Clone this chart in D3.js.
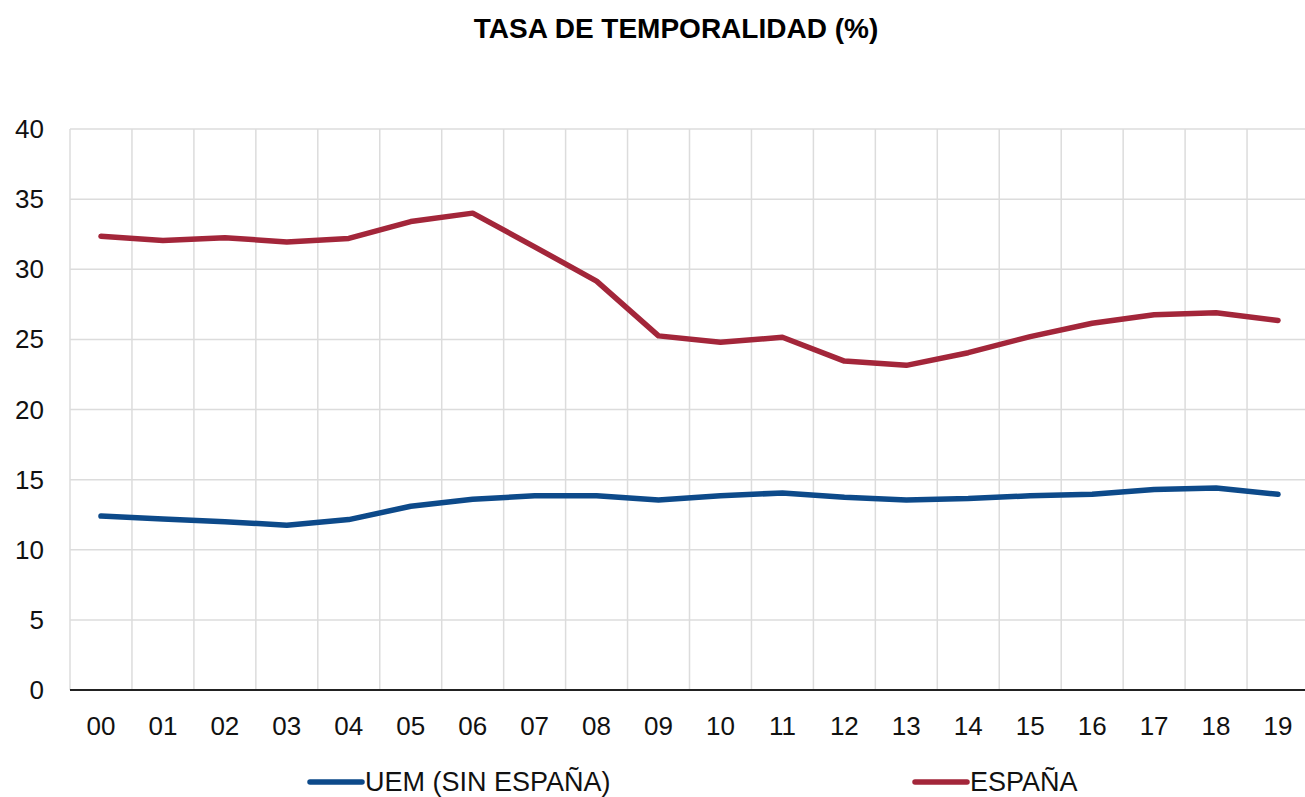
<!DOCTYPE html>
<html>
  <head>
    <script src="https://d3js.org/d3.v7.min.js"></script>
    <style>
      body { margin: 0; background: #fff; }
      text { font-family: "Liberation Sans", Arial, sans-serif; }
    </style>
  </head>
  <body>
    <svg id="chart" width="1305" height="797"></svg>
    <script>
      // data
      const years = ["00","01","02","03","04","05","06","07","08","09","10","11","12","13","14","15","16","17","18","19"];
      const espana = [32.35, 32.05, 32.25, 31.95, 32.2, 33.4, 34.0, 31.6, 29.15, 25.25, 24.8, 25.15, 23.45, 23.15, 24.05, 25.2, 26.15, 26.75, 26.9, 26.35];
      const uem = [12.4, 12.2, 12.0, 11.75, 12.15, 13.1, 13.6, 13.85, 13.85, 13.55, 13.85, 14.05, 13.75, 13.55, 13.65, 13.85, 13.95, 14.3, 14.4, 13.95];
      const yTicks = [0, 5, 10, 15, 20, 25, 30, 35, 40];

      const svg = d3.select("#chart");
      const plotLeft = 70, plotRight = 1309, plotTop = 129, plotBottom = 690;

      const x = d3.scaleBand().domain(years).range([plotLeft, plotRight]);
      const y = d3.scaleLinear().domain([0, 40]).range([plotBottom, plotTop]);

      // title
      svg.append("text")
        .attr("x", 676)
        .attr("y", 38)
        .attr("text-anchor", "middle")
        .style("font-size", "28px")
        .style("font-weight", "bold")
        .text("TASA DE TEMPORALIDAD (%)");

      // horizontal grid
      svg.append("g")
        .selectAll("line")
        .data(yTicks.filter(d => d > 0))
        .enter()
        .append("line")
        .attr("x1", plotLeft).attr("x2", plotRight)
        .attr("y1", d => y(d)).attr("y2", d => y(d))
        .attr("stroke", "#dcdcdc")
        .attr("stroke-width", 1.5);

      // vertical grid at category boundaries
      svg.append("g")
        .selectAll("line")
        .data(years)
        .enter()
        .append("line")
        .attr("x1", d => x(d)).attr("x2", d => x(d))
        .attr("y1", plotTop).attr("y2", plotBottom)
        .attr("stroke", "#dcdcdc")
        .attr("stroke-width", 1.5);

      // y labels
      svg.append("g")
        .selectAll("text")
        .data(yTicks)
        .enter()
        .append("text")
        .attr("x", 44)
        .attr("y", d => y(d) + 9)
        .attr("text-anchor", "end")
        .style("font-size", "26px")
        .attr("fill", "#111")
        .text(d => d);

      // x axis line
      svg.append("line")
        .attr("x1", plotLeft).attr("x2", plotRight)
        .attr("y1", plotBottom).attr("y2", plotBottom)
        .attr("stroke", "#222")
        .attr("stroke-width", 2);

      // x labels
      svg.append("g")
        .selectAll("text")
        .data(years)
        .enter()
        .append("text")
        .attr("x", d => x(d) + x.bandwidth() / 2)
        .attr("y", 735)
        .attr("text-anchor", "middle")
        .style("font-size", "26px")
        .attr("fill", "#111")
        .text(d => d);

      const line = d3.line()
        .x((d, i) => x(years[i]) + x.bandwidth() / 2)
        .y(d => y(d));

      svg.append("path")
        .datum(uem)
        .attr("d", line)
        .attr("fill", "none")
        .attr("stroke", "#0d4a8a")
        .attr("stroke-width", 5.5)
        .attr("stroke-linejoin", "round")
        .attr("stroke-linecap", "round");

      svg.append("path")
        .datum(espana)
        .attr("d", line)
        .attr("fill", "none")
        .attr("stroke", "#a3263a")
        .attr("stroke-width", 5.5)
        .attr("stroke-linejoin", "round")
        .attr("stroke-linecap", "round");

      // legend
      const legend = [
        {name: "UEM (SIN ESPAÑA)", color: "#0d4a8a", x: 310},
        {name: "ESPAÑA", color: "#a3263a", x: 915}
      ];
      const lg = svg.append("g")
        .selectAll("g")
        .data(legend)
        .enter()
        .append("g");
      lg.append("line")
        .attr("x1", d => d.x).attr("x2", d => d.x + 52)
        .attr("y1", 782).attr("y2", 782)
        .attr("stroke", d => d.color)
        .attr("stroke-width", 5.5)
        .attr("stroke-linecap", "round");
      lg.append("text")
        .attr("x", d => d.x + 55)
        .attr("y", 791)
        .style("font-size", "27px")
        .attr("fill", "#111")
        .text(d => d.name);
    </script>
  </body>
</html>
